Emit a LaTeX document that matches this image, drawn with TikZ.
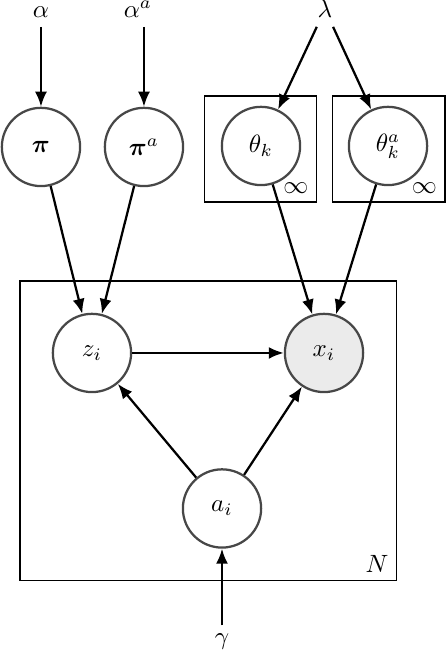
\documentclass[tikz,border=0pt]{standalone}
\usepackage{amsmath,amssymb}
\usetikzlibrary{arrows.meta}

\begin{document}
\begin{tikzpicture}[
            latent/.style={circle,draw=black!72,line width=0.9pt,minimum size=1.1cm,inner sep=0pt,fill=white},
            observed/.style={latent,fill=black!8},
            hyper/.style={anchor=base},
            platebox/.style={draw,line width=0.5pt},
            arr/.style={draw,line width=0.9pt,-{Latex[length=6pt,width=4.8pt]}}
            ]
            \useasboundingbox (0,0) rectangle (6.270,9.194);
            % plates
            \node[platebox,minimum width=5.296cm,minimum height=4.213cm] (plateN) at (2.929,3.138) {};
            \node[anchor=south east] (labN) at (plateN.south east) {$N$};
            \node[platebox,minimum width=1.58cm,minimum height=1.49cm] (platek) at (3.660,7.100) {};
            \node[anchor=south east] (infk) at (platek.south east) {$\infty$};
            \node[platebox,minimum width=1.58cm,minimum height=1.49cm] (plateka) at (5.467,7.100) {};
            \node[anchor=south east] (infka) at (plateka.south east) {$\infty$};
            % hyperparameters
            \node[hyper] (alpha) at (0.576,8.941) {$\alpha$};
            \node[hyper] (alphaa) at (1.940,8.941) {$\alpha^a$};
            \node[hyper] (lambda) at (4.569,8.941) {$\lambda$};
            \node[hyper] (gamma) at (3.121,0.127) {$\gamma$};
            % variables
            \node[latent] (pi) at (0.576,7.128) {$\boldsymbol{\pi}$};
            \node[latent] (pia) at (2.024,7.128) {$\boldsymbol{\pi}^a$};
            \node[latent] (thetak) at (3.669,7.142) {$\theta_k$};
            \node[latent] (thetaka) at (5.455,7.142) {$\theta_k^a$};
            \node[latent] (z) at (1.293,4.232) {$z_i$};
            \node[observed] (x) at (4.555,4.232) {$x_i$};
            \node[latent] (a) at (3.121,2.046) {$a_i$};
            % edges
            \draw[arr] (alpha) -- (pi);
            \draw[arr] (alphaa.south -| pia) -- (pia);
            \draw[arr] (lambda) -- (thetak);
            \draw[arr] (lambda) -- (thetaka);
            \draw[arr] (pi) -- (z);
            \draw[arr] (pia) -- (z);
            \draw[arr] (thetak) -- (x);
            \draw[arr] (thetaka) -- (x);
            \draw[arr] (z) -- (x);
            \draw[arr] (a) -- (z);
            \draw[arr] (a) -- (x);
            \draw[arr] (gamma) -- (a);
        \end{tikzpicture}
\end{document}
